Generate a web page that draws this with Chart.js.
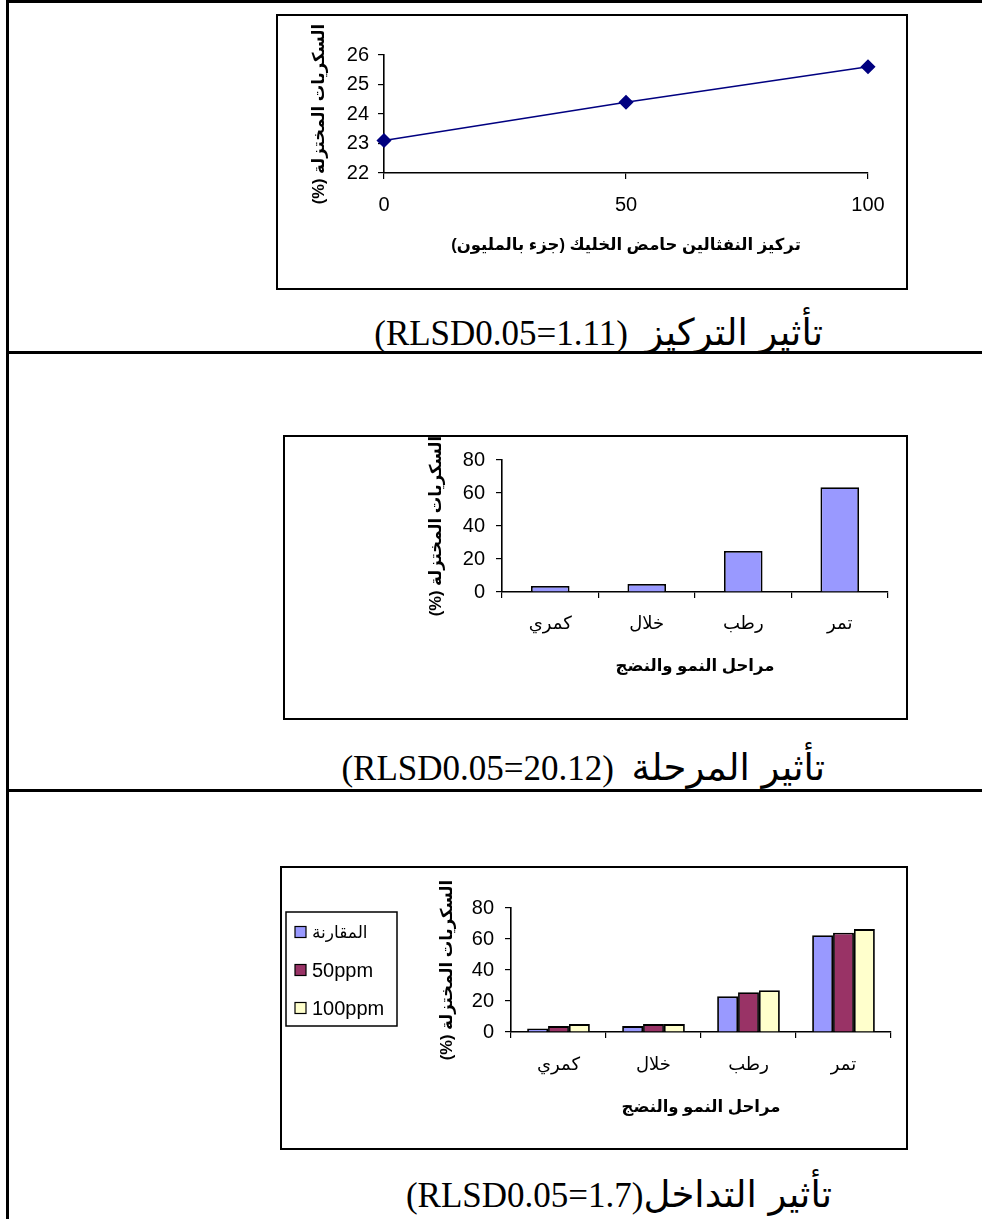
<!DOCTYPE html>
<html>
<head>
<meta charset="utf-8">
<script src="https://cdn.jsdelivr.net/npm/chart.js@4.4.1/dist/chart.umd.min.js"></script>
<style>
  html, body { margin: 0; padding: 0; background: #fff; }
  body { width: 982px; height: 1219px; position: relative; overflow: hidden; }
  .rule { position: absolute; background: #000; }
  .frame { position: absolute; border: 2px solid #000; box-sizing: border-box; background: #fff; }
  .frame canvas { display: block; direction: rtl; }
  .caption {
    position: absolute;
    font-family: "Liberation Serif", "Times New Roman", serif;
    font-size: 35px; line-height: 40px; white-space: pre; direction: rtl; color: #000;
  }
  .caption .ar { font-family: "DejaVu Sans", sans-serif; font-size: 37px; }
</style>
</head>
<body>
  <!-- table rules -->
  <div class="rule" style="left:6px;top:0;width:976px;height:3px"></div>
  <div class="rule" style="left:6px;top:0;width:3px;height:1219px"></div>
  <div class="rule" style="left:6px;top:351px;width:976px;height:3px"></div>
  <div class="rule" style="left:6px;top:789px;width:976px;height:3px"></div>

  <div class="frame" style="left:276px;top:14px;width:632px;height:276px"><canvas id="concChart" width="628" height="272"></canvas></div>
  <div class="caption" style="right:159px;top:313px"><span class="ar">تأثير التركيز</span>  (RLSD0.05=1.11)</div>

  <div class="frame" style="left:283px;top:435px;width:625px;height:285px"><canvas id="stageChart" width="621" height="281"></canvas></div>
  <div class="caption" style="right:157px;top:748px"><span class="ar">تأثير المرحلة</span>  (RLSD0.05=20.12)</div>

  <div class="frame" style="left:280px;top:866px;width:628px;height:284px"><canvas id="mixChart" width="624" height="280"></canvas></div>
  <div class="caption" style="right:150px;top:1175px"><span class="ar">تأثير التداخل</span>(RLSD0.05=1.7)</div>

<script>
// Naphthalene acetic acid concentration (ppm) vs reducing sugars (%)
const concentrations = [0, 50, 100];
const sugarByConc = [23.1, 24.4, 25.6];

// Growth / ripening stages
const stages = ['كمري', 'خلال', 'رطب', 'تمر'];
const sugarByStage = [3.7, 4.9, 24.9, 63.5];

// Interaction: concentration x stage
const seriesNames = ['المقارنة', '50ppm', '100ppm'];
const controlSeries = [2.2, 3.8, 23.0, 62.5];
const ppm50Series = [3.8, 5.1, 25.6, 64.0];
const ppm100Series = [5.1, 5.1, 26.9, 66.4];

const yTitle = 'السكريات المختزلة (%)';
const concTitle = 'تركيز النفثالين حامض الخليك (جزء بالمليون)';
const stageTitle = 'مراحل النمو والنضج';

const SANS = "'Liberation Sans', Arial, 'DejaVu Sans', sans-serif";
Chart.defaults.font.family = SANS;
Chart.defaults.color = '#000';
Chart.defaults.animation = false;

function axis(o) {
  return {
    type: o.type,
    min: o.min, max: o.max,
    offset: o.offset,
    grid: { display: true, drawOnChartArea: false, drawTicks: true, tickLength: 6, color: '#000', lineWidth: 1.2, offset: o.offset },
    border: { display: true, color: '#000', width: 1.6 },
    ticks: { color: '#000', font: { size: o.tickSize || 20 }, padding: o.tickPad, stepSize: o.step, autoSkip: false, maxRotation: 0 },
    title: { display: true, text: o.title, color: '#000', font: { size: 16.5, weight: 'bold' }, padding: o.titlePad },
    afterFit: o.fit
  };
}

const commonPlugins = { legend: { display: false }, tooltip: { enabled: false } };

// Chart 1: line with diamond markers
new Chart(document.getElementById('concChart'), {
  type: 'line',
  data: {
    datasets: [{
      data: concentrations.map((c, i) => ({ x: c, y: sugarByConc[i] })),
      borderColor: '#000080', borderWidth: 1.5,
      pointStyle: 'rectRot', pointRadius: 6.5,
      pointBackgroundColor: '#000080', pointBorderColor: '#000080',
      clip: false
    }]
  },
  options: {
    responsive: false,
    layout: { padding: { left: 0, right: 38, top: 39, bottom: 0 } },
    plugins: commonPlugins,
    scales: {
      x: axis({ type: 'linear', min: 0, max: 100, step: 50, offset: false, tickPad: 14,
                title: concTitle, titlePad: { top: 0, bottom: 33 }, fit: s => { s.height = 115; } }),
      y: axis({ type: 'linear', min: 22, max: 26, step: 1, offset: false, tickPad: 9,
                title: yTitle, titlePad: { top: 32, bottom: 0 }, fit: s => { s.width = 106; } })
    }
  }
});

// Chart 2: stage means
new Chart(document.getElementById('stageChart'), {
  type: 'bar',
  data: {
    labels: stages,
    datasets: [{
      data: sugarByStage,
      backgroundColor: '#9999FF', borderColor: '#000', borderWidth: 1.8,
      categoryPercentage: 0.4, barPercentage: 1
    }]
  },
  options: {
    responsive: false,
    layout: { padding: { left: 0, right: 18, top: 19, bottom: 0 } },
    plugins: commonPlugins,
    scales: {
      x: axis({ type: 'category', offset: true, tickPad: 15, tickSize: 18,
                title: stageTitle, titlePad: { top: 0, bottom: 42 }, fit: s => { s.height = 126; } }),
      y: axis({ type: 'linear', min: 0, max: 80, step: 20, offset: false, tickPad: 11,
                title: yTitle, titlePad: { top: 142, bottom: 0 }, fit: s => { s.width = 217; } })
    }
  }
});

// Boxed legend drawn beside the plot
const boxedLegend = {
  id: 'boxedLegend',
  afterDraw(chart, args, opts) {
    const ctx = chart.ctx;
    ctx.save();
    ctx.lineWidth = 1.5;
    ctx.strokeStyle = '#000';
    ctx.strokeRect(opts.x, opts.y, opts.w, opts.h);
    ctx.textBaseline = 'middle';
    ctx.textAlign = 'left';
    ctx.lineWidth = 1.2;
    chart.data.datasets.forEach((ds, i) => {
      const cy = opts.y + opts.first + i * opts.step;
      ctx.fillStyle = ds.backgroundColor;
      ctx.fillRect(opts.x + 9, cy - 5.5, 11, 11);
      ctx.strokeRect(opts.x + 9, cy - 5.5, 11, 11);
      ctx.fillStyle = '#000';
      const arabic = /[\u0600-\u06FF]/.test(ds.label);
      ctx.font = (arabic ? 17 : 20) + 'px ' + SANS;
      ctx.fillText(ds.label, opts.x + 26, cy + 1);
    });
    ctx.restore();
  }
};

// Chart 3: interaction
const seriesColours = ['#9999FF', '#993366', '#FFFFCC'];
const seriesData = [controlSeries, ppm50Series, ppm100Series];
new Chart(document.getElementById('mixChart'), {
  type: 'bar',
  data: {
    labels: stages,
    datasets: seriesNames.map((n, i) => ({
      label: n, data: seriesData[i],
      backgroundColor: seriesColours[i], borderColor: '#000', borderWidth: 1.8,
      categoryPercentage: 0.66, barPercentage: 1
    }))
  },
  options: {
    responsive: false,
    layout: { padding: { left: 0, right: 15, top: 40, bottom: 0 } },
    plugins: Object.assign({}, commonPlugins, {
      boxedLegend: { x: 4, y: 44, w: 111, h: 114, first: 20, step: 38 }
    }),
    scales: {
      x: axis({ type: 'category', offset: true, tickPad: 16, tickSize: 18,
                title: stageTitle, titlePad: { top: 0, bottom: 31 }, fit: s => { s.height = 116; } }),
      y: axis({ type: 'linear', min: 0, max: 80, step: 20, offset: false, tickPad: 11,
                title: yTitle, titlePad: { top: 156, bottom: 0 }, fit: s => { s.width = 229; } })
    }
  },
  plugins: [boxedLegend]
});
</script>
</body>
</html>
